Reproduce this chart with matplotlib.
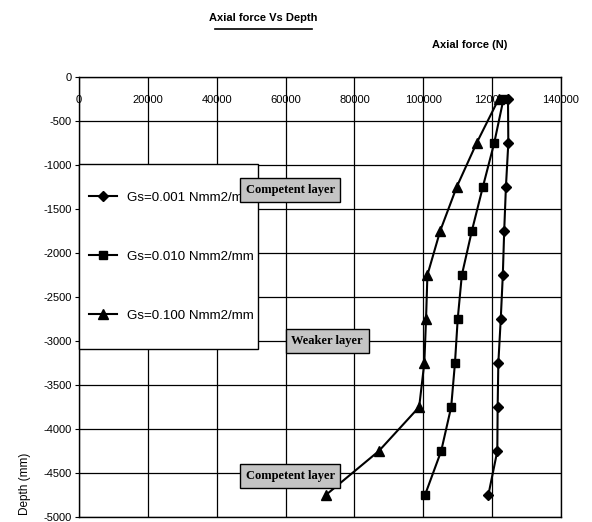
import matplotlib
matplotlib.use("Agg")
import matplotlib.pyplot as plt
from matplotlib import font_manager
from matplotlib.lines import Line2D
from matplotlib.patches import Rectangle

# Pick a condensed sans family when one is installed
names = {f.name for f in font_manager.fontManager.ttflist}
narrow = None
for cand in ["Liberation Sans Narrow", "DejaVu Sans Condensed", "Arial Narrow"]:
    if cand in names:
        narrow = cand
        break
sans = [narrow, "DejaVu Sans"] if narrow else ["Liberation Sans", "DejaVu Sans"]
plt.rcParams["font.family"] = sans

depth = [-250, -750, -1250, -1750, -2250, -2750, -3250, -3750, -4250, -4750]
force_gs001 = [124600, 124700, 124000, 123500, 123100, 122500, 121800, 121600, 121500, 118900]
force_gs010 = [123300, 120600, 117300, 114100, 111200, 110000, 109200, 108100, 105200, 100500]
force_gs100 = [121900, 115500, 109700, 104900, 101200, 100800, 100300, 98800, 87100, 71700]
series_labels = ["Gs=0.001 Nmm2/mm", "Gs=0.010 Nmm2/mm", "Gs=0.100 Nmm2/mm"]
x_ticks = [0, 20000, 40000, 60000, 80000, 100000, 120000, 140000]
y_ticks = [0, -500, -1000, -1500, -2000, -2500, -3000, -3500, -4000, -4500, -5000]

fig = plt.figure(figsize=(5.92, 5.22), dpi=100)
ax = fig.add_axes([79 / 592, 1 - 517 / 522, 482 / 592, 440 / 522])

ax.plot(force_gs001, depth, color="black", lw=1.5, marker="D", ms=5, label=series_labels[0])
ax.plot(force_gs010, depth, color="black", lw=1.5, marker="s", ms=6, label=series_labels[1])
ax.plot(force_gs100, depth, color="black", lw=1.5, marker="^", ms=7, label=series_labels[2])

ax.set_xlim(0, 140000)
ax.set_ylim(-5000, 0)
ax.set_xticks(x_ticks)
ax.set_yticks(y_ticks)
ax.set_xticklabels([str(v) for v in x_ticks])
ax.set_yticklabels([str(v) for v in y_ticks])
ax.grid(True, color="black", lw=0.9)
ax.set_axisbelow(True)
for s in ax.spines.values():
    s.set_color("black")
    s.set_linewidth(1.0)

ax.xaxis.tick_top()
ax.tick_params(axis="x", which="both", length=0, pad=-20, labelsize=8, colors="black")
ax.tick_params(axis="y", which="both", length=3, direction="out", pad=2, labelsize=8, colors="black")
for lbl in ax.get_yticklabels():
    lbl.set_verticalalignment("center_baseline")

# Legend panel: white box with black border, entries placed inside it
box_left, box_right = 0.0, (258 - 79) / 482
box_top, box_bottom = 1 - (164 - 77) / 440, 1 - (349 - 77) / 440
ax.add_patch(Rectangle((box_left, box_bottom), box_right - box_left, box_top - box_bottom,
                       transform=ax.transAxes, facecolor="white", edgecolor="black",
                       lw=1.0, zorder=4, clip_on=False))
leg = ax.legend(loc="center left", bbox_to_anchor=(0.0, (box_top + box_bottom) / 2),
                frameon=False, fontsize=9.6, labelspacing=3.5, borderpad=0.75,
                handlelength=2.1, handletextpad=0.75, borderaxespad=0, handleheight=0.7)
leg.set_zorder(5)

box = dict(boxstyle="square,pad=0.45", facecolor="#c4c4c4", edgecolor="black", lw=1.0)
layer_font = dict(family=["Liberation Serif", "DejaVu Serif"], fontsize=9, fontweight="bold")
ax.text(0.438, 0.743, "Competent layer", transform=ax.transAxes, ha="center", va="center",
        bbox=box, zorder=10, **layer_font)
ax.text(0.515, 0.40, "Weaker layer", transform=ax.transAxes, ha="center", va="center",
        bbox=box, zorder=10, **layer_font)
ax.text(0.438, 0.093, "Competent layer", transform=ax.transAxes, ha="center", va="center",
        bbox=box, zorder=10, **layer_font)

# Title with underline
fig.text(263 / 592, 1 - 18 / 522, "Axial force Vs Depth", ha="center", va="center",
         fontsize=8, fontweight="bold")
fig.add_artist(Line2D([215 / 592, 312 / 592], [1 - 29 / 522, 1 - 29 / 522],
                      color="black", lw=1.2, transform=fig.transFigure))

fig.text(507 / 592, 1 - 45 / 522, "Axial force (N)", ha="right", va="center",
         fontsize=8, fontweight="bold")
fig.text(25 / 592, 1 - 484 / 522, "Depth (mm)", ha="center", va="center", rotation=90,
         fontsize=8.5)

fig.savefig("out.png", dpi=100)
